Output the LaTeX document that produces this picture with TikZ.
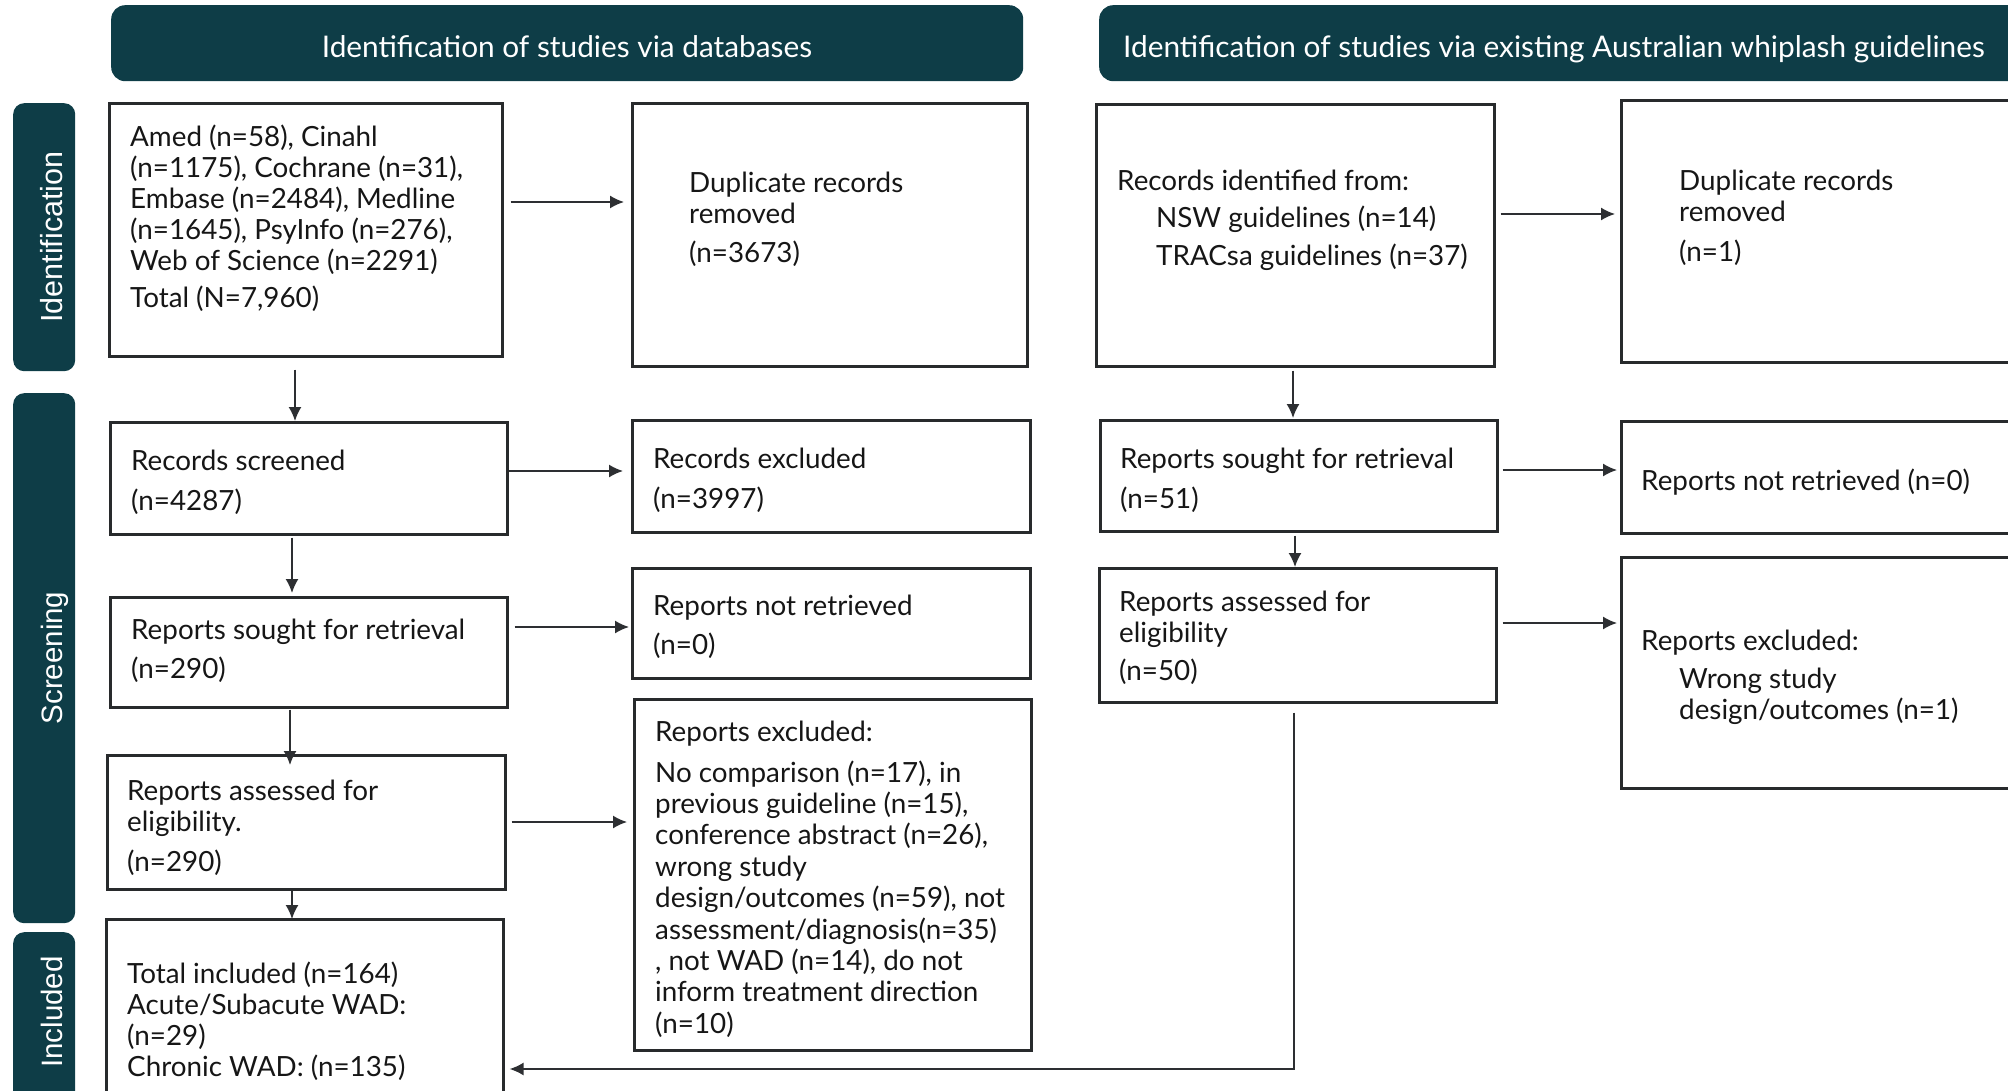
\documentclass[tikz,border=0pt]{standalone}
\usepackage{fontspec}
\setmainfont{Lato}
\newfontfamily\sidefont{Liberation Sans}
\usetikzlibrary{arrows.meta,calc}
\definecolor{hdrc}{RGB}{14,61,71}
\definecolor{boxc}{RGB}{40,42,44}
\definecolor{arrc}{RGB}{45,47,50}
\definecolor{txtc}{RGB}{22,22,22}
\newcommand\lns[1]{\vtop{\halign{##\hfil\cr#1\crcr}}}
\newcommand\nl{\cr}
\newcommand\gap[1]{\cr\noalign{\vskip#1}}
\begin{document}
\begin{tikzpicture}[x=1pt,y=-1pt,
  box/.style={draw=boxc, line width=2.6pt, inner sep=0pt, anchor=north west},
  hdr/.style={fill=hdrc, rounded corners=14pt, inner sep=0pt, anchor=north west},
  side/.style={fill=hdrc, rounded corners=11pt, inner sep=0pt, anchor=north west},
  txt/.style={anchor=base west, inner sep=0pt, font=\fontsize{27.8}{31}\selectfont, text=txtc},
  hdrtxt/.style={anchor=base, inner sep=0pt, font=\fontsize{29.8}{34}\selectfont, text=white},
  sidetxt/.style={anchor=base, inner sep=0pt, rotate=90, font=\sidefont\fontsize{29.5}{34}\selectfont, text=white},
  arr/.style={draw=arrc, line width=1.6pt, -{Latex[length=14pt,width=13pt]}},
]
\useasboundingbox (0,0) rectangle (2008,1091);
\clip (0,0) rectangle (2008,1091);

% headers
\node[hdr, minimum width=912, minimum height=76] (H1) at (111,5) {};
\node[hdrtxt] (H1t) at (567,58) {Identification of studies via databases};
\node[hdr, minimum width=940, minimum height=76] (H2) at (1099,5) {};
\node[hdrtxt] (H2t) at (1554,58) {Identification of studies via existing Australian whiplash guidelines};

% side bars
\node[side, minimum width=62, minimum height=268] (S1) at (13,103) {};
\node[sidetxt, font=\sidefont\fontsize{30.5}{34}\selectfont] (S1t) at (62,237) {Identification};
\node[side, minimum width=62, minimum height=530] (S2) at (13,393) {};
\node[sidetxt] (S2t) at (62,658) {Screening};
\node[side, minimum width=62, minimum height=190] (S3) at (13,932) {};
\node[sidetxt] (S3t) at (62,1012) {Included};

% left column boxes
\node[box, minimum width=393, minimum height=253] (A) at (108,102) {};
\node[box, minimum width=395, minimum height=263] (Dup1) at (631,102) {};
\node[box, minimum width=397, minimum height=112] (Scr) at (109,421) {};
\node[box, minimum width=398, minimum height=112] (RecEx) at (631,419) {};
\node[box, minimum width=397, minimum height=110] (Sought) at (109,596) {};
\node[box, minimum width=398, minimum height=110] (NotRet) at (631,567) {};
\node[box, minimum width=398, minimum height=134] (Assess) at (106,754) {};
\node[box, minimum width=397, minimum height=351] (RepEx) at (633,698) {};
\node[box, minimum width=397, minimum height=200] (Incl) at (105,918) {};

% right column boxes
\node[box, minimum width=398, minimum height=262] (R1) at (1095,103) {};
\node[box, minimum width=420, minimum height=262] (RDup) at (1620,99) {};
\node[box, minimum width=397, minimum height=111] (RSought) at (1099,419) {};
\node[box, minimum width=420, minimum height=112] (RNotRet) at (1620,420) {};
\node[box, minimum width=397, minimum height=134] (RAssess) at (1098,567) {};
\node[box, minimum width=420, minimum height=231] (RRepEx) at (1620,556) {};

% texts left
\node[txt] (tA) at (130,147) {\lns{Amed (n=58), Cinahl\nl(n=1175), Cochrane (n=31),\nl Embase (n=2484), Medline\nl(n=1645), PsyInfo (n=276),\nl Web of Science (n=2291)\gap{6pt}Total (N=7,960)}};
\node[txt] (tDup1) at (689,193) {\lns{Duplicate records\nl removed\gap{8pt}(n=3673)}};
\node[txt] (tScr) at (131,470) {\lns{Records screened\gap{9pt}(n=4287)}};
\node[txt] (tRecEx) at (653,468) {\lns{Records excluded\gap{9pt}(n=3997)}};
\node[txt] (tSought) at (131,639) {\lns{Reports sought for retrieval\gap{8pt}(n=290)}};
\node[txt] (tNotRet) at (653,615) {\lns{Reports not retrieved\gap{8pt}(n=0)}};
\node[txt] (tAssess) at (127,800) {\lns{Reports assessed for\nl eligibility.\gap{9pt}(n=290)}};
\node[txt] (tIncl) at (127,983) {\lns{Total included (n=164)\nl Acute/Subacute WAD:\nl(n=29)\nl Chronic WAD: (n=135)}};
\node[txt, font=\fontsize{27.8}{31.4}\selectfont] (tRepEx) at (655,741) {\lns{Reports excluded:\gap{9.6pt}No comparison (n=17), in\nl previous guideline (n=15),\nl conference abstract (n=26),\nl wrong study\nl design/outcomes (n=59), not\nl assessment/diagnosis(n=35)\nl, not WAD (n=14), do not\nl inform treatment direction\nl(n=10)}};

% texts right
\node[txt] (tR1) at (1117,191) {Records identified from:};
\node[txt] (tR1b) at (1156,228) {\lns{NSW guidelines (n=14)\gap{7pt}TRACsa guidelines (n=37)}};
\node[txt] (tRDup) at (1679,191) {\lns{Duplicate records\nl removed\gap{9pt}(n=1)}};
\node[txt] (tRSought) at (1120,468) {\lns{Reports sought for retrieval\gap{9pt}(n=51)}};
\node[txt] (tRNotRet) at (1641,490) {Reports not retrieved (n=0)};
\node[txt] (tRAssess) at (1119,611) {\lns{Reports assessed for\nl eligibility\gap{7pt}(n=50)}};
\node[txt] (tRRepEx) at (1641,650) {Reports excluded:};
\node[txt] (tRRepExb) at (1679,688) {\lns{Wrong study\nl design/outcomes (n=1)}};

% level coordinates
\coordinate (yA) at (0,202);
\coordinate (yS) at (0,471);
\coordinate (ySo) at (0,627);
\coordinate (yAs) at (0,822);
\coordinate (yR1) at (0,214);
\coordinate (yRS) at (0,470);
\coordinate (yRA) at (0,623);
\coordinate (yRet) at (0,1069);
\coordinate (xA) at (295,0);
\coordinate (xS) at (292,0);
\coordinate (xSo) at (290,0);
\coordinate (xAs) at (292,0);
\coordinate (xR1) at (1293,0);
\coordinate (xRS) at (1295,0);
\coordinate (xRA) at (1294,0);

% horizontal arrows
\draw[arr] ($(A.east |- yA)+(7,0)$) -- ($(Dup1.west |- yA)+(-7,0)$);
\draw[arr] (Scr.east |- yS) -- ($(RecEx.west |- yS)+(-8,0)$);
\draw[arr] ($(Sought.east |- ySo)+(6,0)$) -- ($(NotRet.west |- ySo)+(-2,0)$);
\draw[arr] ($(Assess.east |- yAs)+(5,0)$) -- ($(RepEx.west |- yAs)+(-6,0)$);
\draw[arr] ($(R1.east |- yR1)+(5,0)$) -- ($(RDup.west |- yR1)+(-5,0)$);
\draw[arr] ($(RSought.east |- yRS)+(4,0)$) -- ($(RNotRet.west |- yRS)+(-3,0)$);
\draw[arr] ($(RAssess.east |- yRA)+(5,0)$) -- ($(RRepEx.west |- yRA)+(-3,0)$);

% vertical arrows
\draw[arr] ($(A.south -| xA)+(0,12)$) -- (Scr.north -| xA);
\draw[arr] ($(Scr.south -| xS)+(0,2)$) -- ($(Sought.north -| xS)+(0,-3)$);
\draw[arr] ($(Sought.south -| xSo)+(0,1)$) -- ($(Assess.north -| xSo)+(0,11)$);
\draw[arr] (Assess.south -| xAs) -- ($(Incl.north -| xAs)+(0,1)$);
\draw[arr] ($(R1.south -| xR1)+(0,3)$) -- ($(RSought.north -| xR1)+(0,-1)$);
\draw[arr] ($(RSought.south -| xRS)+(0,3)$) -- (RAssess.north -| xRS);
\draw[arr] ($(RAssess.south -| xRA)+(0,9)$) -- (xRA |- yRet) -- ($(Incl.east |- yRet)+(5,0)$);
\end{tikzpicture}
\end{document}
